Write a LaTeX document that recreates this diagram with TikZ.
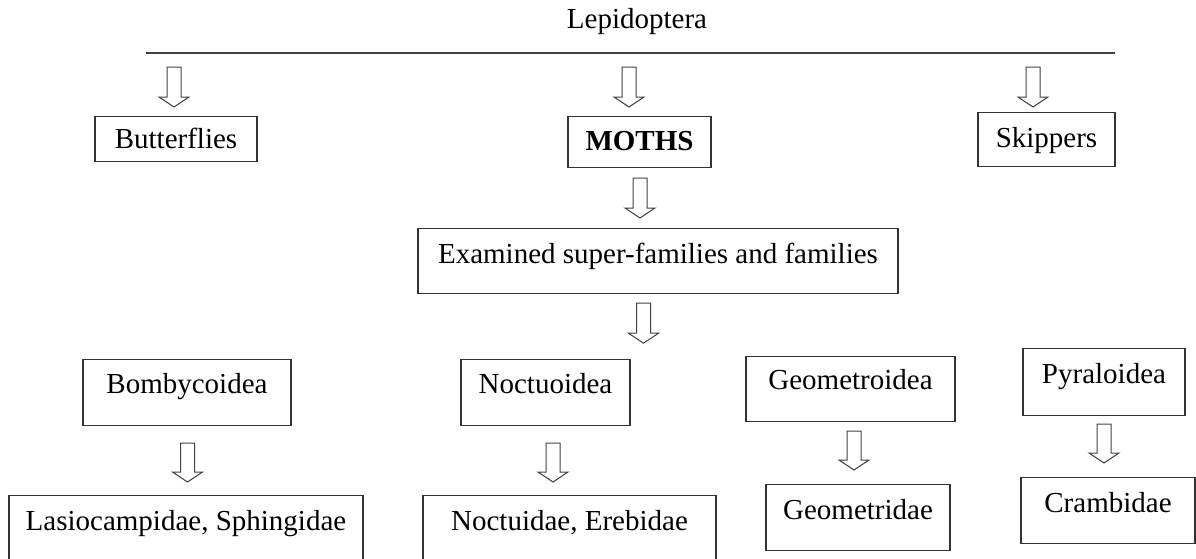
\documentclass[tikz,border=0pt]{standalone}
\usepackage{fontspec}
\setmainfont{Liberation Serif}
\usetikzlibrary{positioning, calc}

\begin{document}
\begin{tikzpicture}[
    x = 0.5pt, y = -0.5pt,
    line width = 0.6pt,
    font = \fontsize{14.5pt}{17pt}\selectfont,
    famblock/.style={draw=black!80, rectangle, anchor=north, inner xsep=0pt, inner ysep=0pt,
                     text height=17.5pt, text depth=16pt},
    % hollow block arrow, pointing down from the start to the target
    hollow/.style={draw=black!75, line width=0.5pt, line join=miter,
        to path={let \p1=(\tikztostart), \p2=(\tikztotarget) in
            (\x1-3.5pt,\y1) -- (\x1-3.5pt,\y2+5pt) -- (\x1-7.5pt,\y2+5pt) -- (\x1,\y2)
            -- (\x1+7.5pt,\y2+5pt) -- (\x1+3.5pt,\y2+5pt) -- (\x1+3.5pt,\y1) -- cycle}}
]
\useasboundingbox (0,0) rectangle (1196,558);
\clip (0,0) rectangle (1196,558);

% --- Order ---
\node[anchor=base] (lepi) at (637,28) {Lepidoptera};
\coordinate (lineL) at (146,53);
\coordinate (lineR) at (1115,53);
\draw[black!75] (lineL) -- (lineR);

% --- Groups ---
\node[famblock, minimum width=81pt, text height=16pt, text depth=6.5pt] (bfly) at (176,116) {Butterflies};
\node[famblock, minimum width=71.5pt, text height=17pt, text depth=8.5pt, font=\fontsize{14.5pt}{17pt}\selectfont\bfseries] (moths) at (639.5,116) {MOTHS};
\node[famblock, minimum width=68.5pt, text height=17.5pt, text depth=9.5pt] (skip) at (1046.5,112) {Skippers};

\draw[hollow] ($(bfly.north |- lineL)+(-2,14)$) to ($(bfly.north)+(-2,-9)$);
\draw[hollow] ($(moths.north |- lineL)+(-10.5,14)$) to ($(moths.north)+(-10.5,-9)$);
\draw[hollow] ($(skip.north |- lineL)+(-13.5,14)$) to ($(skip.north)+(-13.5,-5)$);

% --- Examined ---
\node[famblock, minimum width=240pt, text depth=15pt] (exam) at (658,228) {Examined super-families and families};
\draw[hollow] ($(moths.south)+(0.5,10)$) to ($(exam.north)+(-18,-10)$);
\draw[hollow] ($(exam.south)+(-14.5,9)$) to ($(exam.south)+(-14.5,49)$);

% --- Super-families ---
\node[famblock, minimum width=104pt, text height=17pt] (bomb) at (187,359) {Bombycoidea};
\node[famblock, minimum width=84.5pt, text height=17pt] (noct) at (545.5,359) {Noctuoidea};
\node[famblock, minimum width=104.5pt, text height=16.5pt] (geom) at (850.5,356) {Geometroidea};
\node[famblock, minimum width=81pt] (pyral) at (1104,348) {Pyraloidea};

% --- Families ---
\node[famblock, minimum width=177pt, text depth=20pt] (lasio) at (186,495) {Lasiocampidae, Sphingidae};
\node[famblock, minimum width=146.5pt, text depth=20pt] (noctu) at (569.5,495) {Noctuidae, Erebidae};
\node[famblock, minimum width=92pt, text depth=15.5pt] (geomf) at (858,484) {Geometridae};
\node[famblock, minimum width=87pt, text depth=15.5pt] (cramb) at (1108,477) {Crambidae};

\draw[hollow] ($(bomb.south)+(0.5,17)$) to ($(lasio.north)+(0,-13)$);
\draw[hollow] ($(noct.south)+(7.5,17)$) to ($(noctu.north)+(0,-13)$);
\draw[hollow] ($(geom.south)+(3.5,9)$) to ($(geomf.north)+(0,-14)$);
\draw[hollow] ($(pyral.south)+(0,8)$) to ($(cramb.north)+(0,-14)$);

\end{tikzpicture}
\end{document}
